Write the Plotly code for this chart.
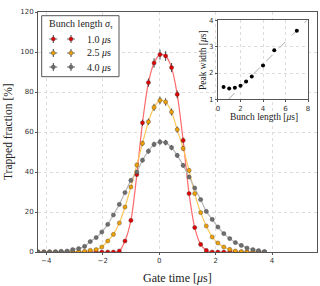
import plotly.graph_objects as go

# ---------------- data ----------------
gate_time = [-4.29, -4.08, -3.88, -3.67, -3.47, -3.26, -3.06, -2.85, -2.64, -2.44,
             -2.23, -2.03, -1.82, -1.62, -1.41, -1.21, -1.00, -0.79, -0.59, -0.38,
             -0.18, 0.03, 0.23, 0.44, 0.64, 0.85, 1.06, 1.26, 1.47, 1.67,
             1.88, 2.08, 2.29, 2.50, 2.70, 2.91, 3.11, 3.32, 3.52, 3.73]

frac_1p0 = [0, 0, 0, 0, 0, 0, 0, 0, 0, 0,
            0, 0, 0, 0, 0.5, 5.5, 15.8, 38.7, 64.6, 84.7,
            94.5, 98.7, 98.0, 92.2, 78.8, 55.8, 29.2, 12.2, 3.8, 0.8,
            0, 0, 0, 0, 0, 0, 0, 0, 0, 0]

frac_2p5 = [0, 0, 0, 0, 0, 0, 0, 0.1, 0.3, 0.85,
            1.2, 2.5, 5.5, 8.8, 14.5, 22.5, 32.5, 43.5, 54.3, 65.1,
            72.3, 75.8, 75.0, 70.0, 61.2, 51.8, 40.8, 29.2, 19.7, 13.0,
            7.5, 4.5, 2.5, 1.3, 0.5, 0.2, 0, 0, 0, 0]

frac_4p0 = [0, 0, 0, 0.1, 0.35, 0.5, 1.2, 1.7, 2.8, 5.2,
            7.2, 10.0, 13.8, 18.5, 23.8, 29.7, 35.8, 40.0, 45.9, 50.4,
            53.8, 55.0, 54.7, 52.2, 48.3, 43.3, 37.5, 32.0, 26.2, 20.3,
            16.3, 12.5, 9.2, 6.7, 4.7, 3.3, 2.0, 1.2, 0.7, 0.2]

series_names = ["1.0 <i>μ</i>s", "2.5 <i>μ</i>s", "4.0 <i>μ</i>s"]
legend_title = "Bunch length <i>σ</i><sub>τ</sub>"

# inset
bunch_length = [0.5, 1.0, 1.5, 2.0, 2.5, 3.0, 4.0, 5.0, 7.0]
peak_width = [1.47, 1.41, 1.44, 1.52, 1.68, 1.87, 2.29, 2.87, 3.61]
diag_x = [0.92, 8.0]
diag_y = [1.0, 4.05]

x_ticks = [-4, -2, 0, 2, 4]
y_ticks = [0, 20, 40, 60, 80, 100, 120]
inset_x_ticks = [0, 2, 4, 6, 8]
inset_y_ticks = [1, 2, 3, 4]

# ---------------- styles ----------------
marker_colors = ["#e00000", "#f0a000", "#6e6e6e"]
line_colors = ["#ff6b6b", "#ffc85a", "#b8b8b8"]
SERIF = "Liberation Serif, DejaVu Serif, serif"
SANS = "DejaVu Sans, sans-serif"
W, H = 320, 286
ML, MR, MT, MB = 38, 3, 12, 34
PW, PH = W - ML - MR, H - MT - MB


def px(x):  # pixel -> paper x
    return (x - ML) / PW


def py(y):  # pixel -> paper y
    return (H - MB - y) / PH


fig = go.Figure()

series = [frac_1p0, frac_2p5, frac_4p0]
for vals, lc in zip(series, line_colors):
    fig.add_trace(go.Scatter(
        x=gate_time, y=vals, mode="lines",
        line=dict(color=lc, width=1.2, shape="spline", smoothing=0.8),
        showlegend=False, hoverinfo="skip", xaxis="x", yaxis="y"))

for vals, mc, name in zip(series, marker_colors, series_names):
    fig.add_trace(go.Scatter(
        x=gate_time, y=vals, mode="markers", name=name, showlegend=False,
        marker=dict(color=mc, size=4.2, line=dict(color="#444444", width=0.4)),
        error_y=dict(type="percent", value=2.5, color="#333333", thickness=0.9, width=0),
        xaxis="x", yaxis="y"))

# inset
fig.add_trace(go.Scatter(
    x=diag_x, y=diag_y, mode="lines",
    line=dict(color="#aaaaaa", width=1, dash="dash"),
    showlegend=False, xaxis="x2", yaxis="y2"))
fig.add_trace(go.Scatter(
    x=bunch_length, y=peak_width, mode="markers",
    marker=dict(color="black", size=4),
    showlegend=False, xaxis="x2", yaxis="y2"))

# ---------------- custom legend (layout decoration) ----------------
shapes = [dict(type="rect", xref="paper", yref="paper",
               x0=px(41.7), x1=px(119), y0=py(76.7), y1=py(15.7),
               fillcolor="white", line=dict(color="#555555", width=1), layer="above")]
annotations = [dict(text=legend_title, xref="paper", yref="paper",
                    x=px(80.5), y=py(24.5), xanchor="center", yanchor="middle",
                    showarrow=False, font=dict(family=SERIF, size=10, color="#222222"))]
row_y = [39, 53, 67]
for ry, mc, name in zip(row_y, marker_colors, series_names):
    for cx in (53.3, 71.0):
        shapes.append(dict(type="line", xref="paper", yref="paper",
                           x0=px(cx - 4), x1=px(cx + 4), y0=py(ry), y1=py(ry),
                           line=dict(color="#555555", width=0.9), layer="above"))
        shapes.append(dict(type="line", xref="paper", yref="paper",
                           x0=px(cx), x1=px(cx), y0=py(ry - 4), y1=py(ry + 4),
                           line=dict(color="#333333", width=0.9), layer="above"))
        shapes.append(dict(type="circle", xref="paper", yref="paper",
                           x0=px(cx - 2), x1=px(cx + 2), y0=py(ry + 2), y1=py(ry - 2),
                           fillcolor=mc, line=dict(color="#444444", width=0.4),
                           layer="above"))
    annotations.append(dict(text=name, xref="paper", yref="paper",
                            x=px(84.5), y=py(ry), xanchor="left", yanchor="middle",
                            showarrow=False,
                            font=dict(family=SERIF, size=10, color="#222222")))

annotations += [
    dict(text="Gate time [<i>μ</i>s]", xref="paper", yref="paper",
         x=px(177.6), y=py(277.5), xanchor="center", yanchor="middle", showarrow=False,
         font=dict(family=SERIF, size=12, color="#222222")),
    dict(text="Trapped fraction [%]", xref="paper", yref="paper",
         x=px(8), y=py(132), xanchor="center", yanchor="middle", showarrow=False,
         textangle=-90, font=dict(family=SERIF, size=11.5, color="#222222")),
    dict(text="Bunch length [<i>μ</i>s]", xref="paper", yref="paper",
         x=px(264), y=py(116.5), xanchor="center", yanchor="middle", showarrow=False,
         font=dict(family=SERIF, size=9.5, color="#222222")),
    dict(text="Peak width [<i>μ</i>s]", xref="paper", yref="paper",
         x=px(203), y=py(60), xanchor="center", yanchor="middle", showarrow=False,
         textangle=-90, font=dict(family=SERIF, size=9.5, color="#222222")),
]

axis_common = dict(
    showline=True, mirror=True, linecolor="#555555", linewidth=1,
    showgrid=True, gridcolor="#dddddd", griddash="dot", gridwidth=0.6,
    zeroline=False, ticks="outside", ticklen=2, tickcolor="#555555",
    tickfont=dict(family=SANS, size=7, color="#333333"),
    automargin=False,
)

fig.update_layout(
    template="none",
    width=W, height=H,
    margin=dict(l=ML, r=MR, t=MT, b=MB, autoexpand=False),
    paper_bgcolor="white", plot_bgcolor="white",
    xaxis=dict(domain=[0, 1], range=[-4.29, 5.59], tickvals=x_ticks,
               ticktext=["−4", "−2", "0", "2", "4"], anchor="y", **axis_common),
    yaxis=dict(domain=[0, 1], range=[0, 120], tickvals=y_ticks, anchor="x", **axis_common),
    xaxis2=dict(domain=[0.645, 0.968], range=[0, 8], tickvals=inset_x_ticks,
                anchor="y2", **axis_common),
    yaxis2=dict(domain=[0.636, 0.965], range=[1, 4], tickvals=inset_y_ticks,
                anchor="x2", **axis_common),
    showlegend=False,
    shapes=shapes,
    annotations=annotations,
)

fig.write_html("out.html", config={"displayModeBar": False},
               post_script="document.body.style.margin='0px';")
